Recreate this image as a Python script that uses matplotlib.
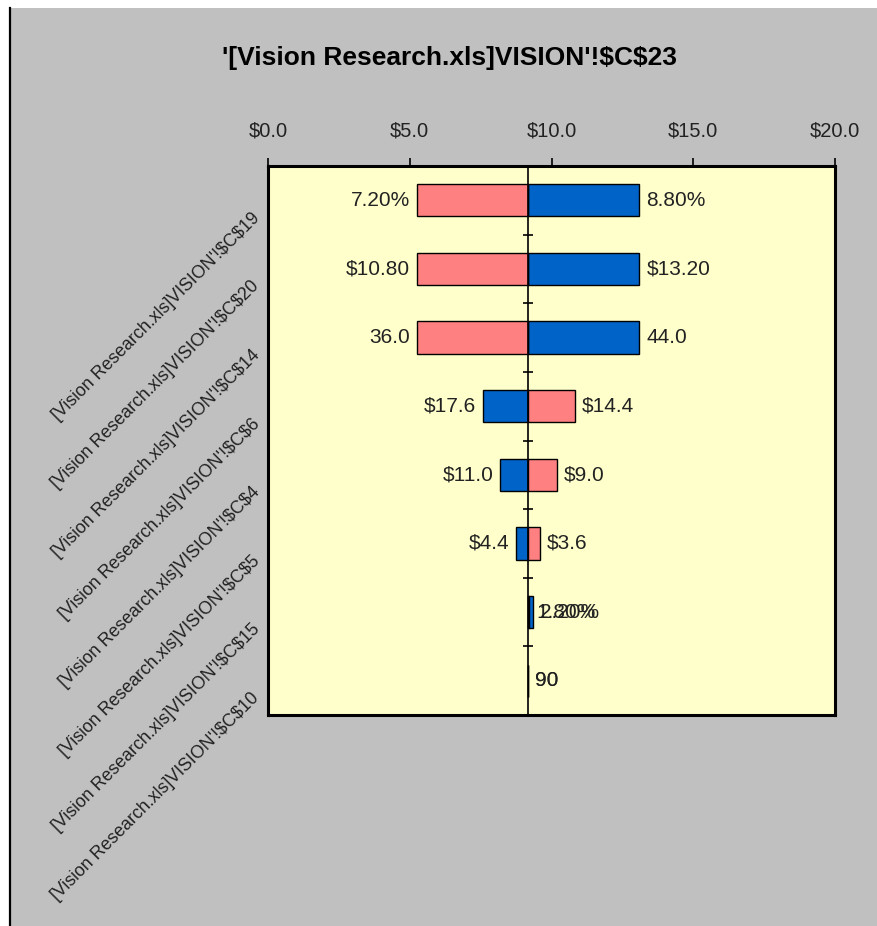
import matplotlib
matplotlib.use("Agg")
import matplotlib.pyplot as plt
import matplotlib.transforms as mtransforms
from matplotlib.patches import Rectangle
from matplotlib.lines import Line2D

plt.rcParams['font.family'] = ['Liberation Sans', 'DejaVu Sans']
plt.rcParams['text.parse_math'] = False

title = "'[Vision Research.xls]VISION'!$C$23"
categories = ["[Vision Research.xls]VISION'!$C$19",
              "[Vision Research.xls]VISION'!$C$20",
              "[Vision Research.xls]VISION'!$C$14",
              "[Vision Research.xls]VISION'!$C$6",
              "[Vision Research.xls]VISION'!$C$4",
              "[Vision Research.xls]VISION'!$C$5",
              "[Vision Research.xls]VISION'!$C$15",
              "[Vision Research.xls]VISION'!$C$10"]
base_value = 9.18
low_output = [5.26, 5.26, 5.26, 10.82, 10.18, 9.59, 9.22, 9.18]    # pink series
high_output = [13.10, 13.10, 13.10, 7.59, 8.19, 8.76, 9.33, 9.18]  # blue series
low_labels = ["7.20%", "$10.80", "36.0", "$14.4", "$9.0", "$3.6", "1.80%", "90"]
high_labels = ["8.80%", "$13.20", "44.0", "$17.6", "$11.0", "$4.4", "2.20%", "90"]
xticks = [0, 5, 10, 15, 20]
xtick_labels = ["$0.0", "$5.0", "$10.0", "$15.0", "$20.0"]

W, H = 877, 926
fig = plt.figure(figsize=(W / 100, H / 100), dpi=100)
fig.patch.set_facecolor('white')
# chart area background
fig.patches.append(Rectangle((9 / W, 0), 1 - 9 / W, 1 - 8 / H, transform=fig.transFigure,
                             facecolor='#C0C0C0', edgecolor='none', zorder=-10))
fig.lines.append(Line2D([10 / W, 10 / W], [0, 1 - 8 / H], transform=fig.transFigure,
                        color='black', linewidth=1.6, zorder=-9))

left, right, top, bottom = 268, 835, 166, 715
ax = fig.add_axes([left / W, 1 - bottom / H, (right - left) / W, (bottom - top) / H])
ax.set_facecolor('#FFFFCC')

n = len(categories)
y = list(range(n))
bar_h = 0.47
pink = '#FF8080'
blue = '#0063C8'

blue_w = [h - base_value for h in high_output]
pink_w = [l - base_value for l in low_output]
ax.barh(y, blue_w, left=base_value, height=bar_h, color=blue, edgecolor='black', linewidth=1.0, zorder=3)
ax.barh(y, pink_w, left=base_value, height=bar_h, color=pink, edgecolor='black', linewidth=1.0, zorder=3)

# center line with boundary ticks
ax.axvline(base_value, color='black', linewidth=1.2, zorder=4)
bounds = [i + 0.5 for i in range(n - 1)]
ax.plot([base_value] * len(bounds), bounds, linestyle='none', marker='_', markersize=7,
        markeredgewidth=1.2, color='black', zorder=4)

lab_fs = 15
for i in range(n):
    for val, txt in ((low_output[i], low_labels[i]), (high_output[i], high_labels[i])):
        if val < base_value:
            off = mtransforms.offset_copy(ax.transData, fig=fig, x=-7, y=0, units='dots')
            ax.text(val, i, txt, ha='right', va='center', fontsize=lab_fs, color='#222222',
                    transform=off, zorder=5)
        else:
            off = mtransforms.offset_copy(ax.transData, fig=fig, x=7, y=0, units='dots')
            ax.text(val, i, txt, ha='left', va='center', fontsize=lab_fs, color='#222222',
                    transform=off, zorder=5)

ax.set_xlim(0, 20)
ax.set_ylim(n - 0.5, -0.5)
ax.xaxis.tick_top()
ax.set_xticks(xticks)
ax.set_xticklabels(xtick_labels, fontsize=14.5, color='#222222')
ax.tick_params(axis='x', direction='out', length=6, width=1.2, pad=12)

ax.set_yticks(y)
ax.set_yticklabels(categories, fontsize=12.8, color='#222222', rotation=45,
                   rotation_mode='anchor', ha='right', va='center')
ax.tick_params(axis='y', length=0, pad=8)
shift = mtransforms.ScaledTranslation(0, -15 / 100, fig.dpi_scale_trans)
for lab in ax.get_yticklabels():
    lab.set_transform(lab.get_transform() + shift)

for s in ax.spines.values():
    s.set_linewidth(2.2)
    s.set_color('black')

fig.text(0.5 * (222 + 676) / W, 1 - 58 / H, title, ha='center', va='center',
         fontsize=19, fontweight='bold', color='black')

fig.savefig('out.png', dpi=100, facecolor=fig.get_facecolor())
